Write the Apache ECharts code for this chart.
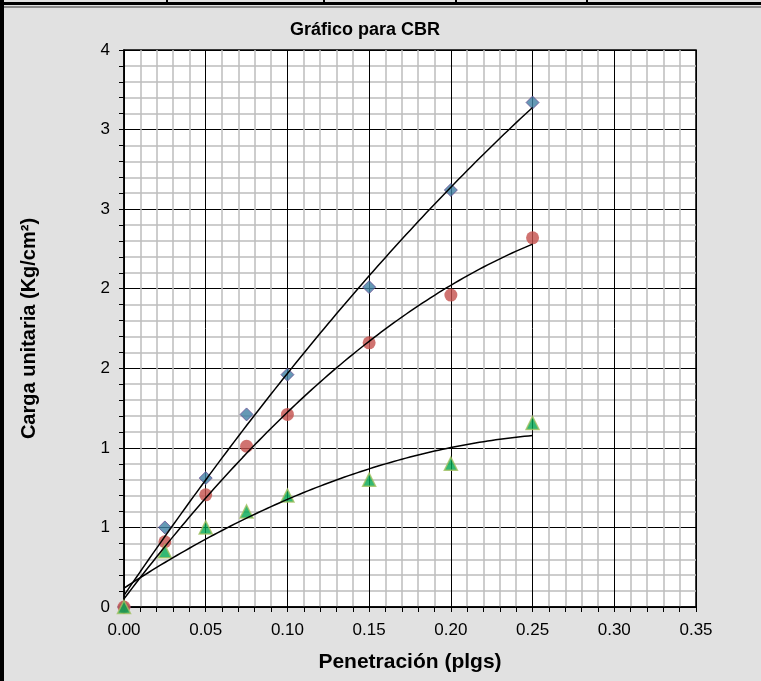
<!DOCTYPE html>
<html>
<head>
<meta charset="utf-8">
<script src="https://cdn.jsdelivr.net/npm/echarts@6/dist/echarts.min.js"></script>
<style>
  html, body { margin: 0; padding: 0; background: #e1e1e1; }
  #chart { width: 761px; height: 681px; }
</style>
</head>
<body>
<div id="chart"></div>
<script>
// Penetration readings (inches) and unit loads (kg/cm²) for the three specimens
const penetration = [0, 0.025, 0.05, 0.075, 0.1, 0.15, 0.2, 0.25];
const specimenA = [0, 0.50, 0.81, 1.21, 1.46, 2.01, 2.62, 3.17];
const specimenB = [0, 0.41, 0.705, 1.01, 1.21, 1.66, 1.96, 2.32];
const specimenC = [0, 0.35, 0.50, 0.60, 0.70, 0.80, 0.90, 1.156];

const chartTitle = 'Gráfico para CBR';
const xTitle = 'Penetración (plgs)';
const yTitle = 'Carga unitaria (Kg/cm²)';

const FONT = '"Liberation Sans", Arial, sans-serif';

// Second-order least-squares trend line through a set of readings
function quadFit(xs, ys) {
  let n = xs.length, s1 = 0, s2 = 0, s3 = 0, s4 = 0, t0 = 0, t1 = 0, t2 = 0;
  for (let i = 0; i < n; i++) {
    const x = xs[i], y = ys[i];
    s1 += x; s2 += x * x; s3 += x * x * x; s4 += x * x * x * x;
    t0 += y; t1 += x * y; t2 += x * x * y;
  }
  // Solve the 3x3 normal equations by Cramer's rule
  const M = [[n, s1, s2], [s1, s2, s3], [s2, s3, s4]];
  const R = [t0, t1, t2];
  const det = m => m[0][0] * (m[1][1] * m[2][2] - m[1][2] * m[2][1])
                 - m[0][1] * (m[1][0] * m[2][2] - m[1][2] * m[2][0])
                 + m[0][2] * (m[1][0] * m[2][1] - m[1][1] * m[2][0]);
  const D = det(M);
  const coef = [0, 1, 2].map(k => {
    const mk = M.map((row, r) => row.map((v, c) => (c === k ? R[r] : v)));
    return det(mk) / D;
  });
  return x => coef[0] + coef[1] * x + coef[2] * x * x;
}

function trendPoints(xs, ys) {
  const f = quadFit(xs, ys);
  const x0 = xs[0], x1 = xs[xs.length - 1];
  const pts = [];
  for (let i = 0; i <= 100; i++) {
    const x = x0 + (x1 - x0) * i / 100;
    pts.push([x, f(x)]);
  }
  return pts;
}

const pairs = ys => penetration.map((x, i) => [x, ys[i]]);

const chart = echarts.init(document.getElementById('chart'), null, { renderer: 'canvas' });

const trendStyle = { color: '#000', width: 1.5 };

chart.setOption({
  animation: false,
  backgroundColor: '#e1e1e1',
  textStyle: { fontFamily: FONT },
  grid: {
    left: 124, right: 65, top: 50, bottom: 74,
    show: true, backgroundColor: '#fff', borderColor: '#000', borderWidth: 1.5
  },
  graphic: [
    // frame strip along the top and left edge
    { type: 'rect', shape: { x: 0, y: 2, width: 761, height: 3 }, style: { fill: '#000' }, silent: true },
    { type: 'rect', shape: { x: 0, y: 6, width: 761, height: 2 }, style: { fill: '#8a8a8a' }, silent: true },
    { type: 'rect', shape: { x: 0, y: 0, width: 4, height: 681 }, style: { fill: '#000' }, silent: true },
    { type: 'rect', shape: { x: 166, y: 0, width: 2, height: 4 }, style: { fill: '#000' }, silent: true },
    { type: 'rect', shape: { x: 323, y: 0, width: 2, height: 4 }, style: { fill: '#000' }, silent: true },
    { type: 'rect', shape: { x: 455, y: 0, width: 2, height: 4 }, style: { fill: '#000' }, silent: true },
    { type: 'rect', shape: { x: 586, y: 0, width: 2, height: 4 }, style: { fill: '#000' }, silent: true },
    {
      type: 'text', x: 365, y: 30,
      style: {
        text: chartTitle, fill: '#000', font: 'bold 18px ' + FONT,
        textAlign: 'center', textVerticalAlign: 'middle'
      }
    }
  ],
  xAxis: {
    type: 'value', min: 0, max: 0.35, interval: 0.05,
    name: xTitle, nameLocation: 'middle', nameGap: 45,
    nameTextStyle: { fontFamily: FONT, fontWeight: 'bold', fontSize: 21, color: '#000' },
    axisLine: { show: true, onZero: false, lineStyle: { color: '#000', width: 1.5 } },
    axisTick: { show: true, inside: false, length: 5, lineStyle: { color: '#000' } },
    minorTick: { show: true, splitNumber: 5, length: 5, lineStyle: { color: '#000' } },
    axisLabel: {
      margin: 15, color: '#000', fontSize: 17, fontFamily: FONT,
      formatter: v => v.toFixed(2)
    },
    splitLine: { show: true, lineStyle: { color: '#000', width: 1 } },
    minorSplitLine: { show: true, lineStyle: { color: '#bdbdbd', width: 1.5 } }
  },
  yAxis: {
    type: 'value', min: 0, max: 3.5, interval: 0.5,
    name: yTitle, nameLocation: 'middle', nameGap: 85, nameRotate: 90,
    nameTextStyle: { fontFamily: FONT, fontWeight: 'bold', fontSize: 20, color: '#000' },
    axisLine: { show: true, onZero: false, lineStyle: { color: '#000', width: 1.5 } },
    axisTick: { show: true, inside: false, length: 5, lineStyle: { color: '#000' } },
    minorTick: { show: true, splitNumber: 5, length: 5, lineStyle: { color: '#000' } },
    axisLabel: {
      margin: 14, color: '#000', fontSize: 17, fontFamily: FONT,
      formatter: v => String(Math.round(v))
    },
    splitLine: { show: true, lineStyle: { color: '#000', width: 1 } },
    minorSplitLine: { show: true, lineStyle: { color: '#bdbdbd', width: 1.5 } }
  },
  series: [
    {
      type: 'scatter', data: pairs(specimenA), symbol: 'diamond', symbolSize: 13, z: 3,
      itemStyle: { color: '#3e7fa3', borderColor: '#6a4f93', borderWidth: 1 }
    },
    {
      type: 'scatter', data: pairs(specimenB), symbol: 'circle', symbolSize: 13, z: 3,
      itemStyle: { color: '#c4504c', borderColor: '#c4504c', borderWidth: 0 }
    },
    {
      type: 'scatter', data: pairs(specimenC), symbol: 'triangle', symbolSize: 13, z: 3,
      itemStyle: { color: '#00a651', borderColor: '#a3c160', borderWidth: 1.5 }
    },
    { type: 'line', data: trendPoints(penetration, specimenA), showSymbol: false, lineStyle: trendStyle, z: 4, silent: true },
    { type: 'line', data: trendPoints(penetration, specimenB), showSymbol: false, lineStyle: trendStyle, z: 4, silent: true },
    { type: 'line', data: trendPoints(penetration, specimenC), showSymbol: false, lineStyle: trendStyle, z: 4, silent: true }
  ]
});
</script>
</body>
</html>
